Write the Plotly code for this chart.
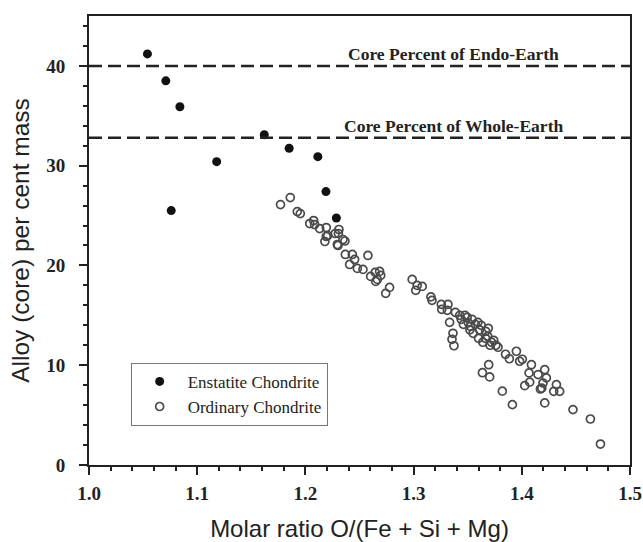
import plotly.graph_objects as go

# ---- data ----
enstatite_x = [1.054, 1.071, 1.084, 1.076, 1.118, 1.162, 1.185, 1.2115, 1.219, 1.2286]
enstatite_y = [41.2, 38.5, 35.9, 25.5, 30.4, 33.1, 31.75, 30.9, 27.4, 24.75]

ordinary_x = [1.177, 1.186, 1.1925, 1.1953, 1.204, 1.2076, 1.2085, 1.2132, 1.2193, 1.2193,
              1.218, 1.2206, 1.2276, 1.231, 1.2305, 1.2347, 1.2365, 1.2295, 1.2301, 1.2369,
              1.2434, 1.2455, 1.2409, 1.248, 1.2532, 1.2578, 1.2603, 1.2645, 1.2686, 1.2696,
              1.265, 1.2665, 1.2742, 1.2778, 1.2987, 1.302, 1.3033, 1.308, 1.316, 1.317,
              1.3256, 1.326, 1.3318, 1.3312, 1.3333, 1.3386, 1.3364, 1.3355, 1.3373, 1.3426,
              1.344, 1.346, 1.3495, 1.3506, 1.3525, 1.352, 1.355, 1.357, 1.3594, 1.361,
              1.360, 1.364, 1.3666, 1.369, 1.3685, 1.3707, 1.372, 1.374, 1.376, 1.378,
              1.3475, 1.354, 1.3625, 1.3665, 1.3694, 1.3636, 1.3703, 1.382, 1.385, 1.3885,
              1.3913, 1.395, 1.398, 1.4005, 1.4027, 1.4073, 1.4067, 1.4089, 1.415, 1.4172,
              1.4185, 1.4196, 1.4212, 1.4227, 1.4212, 1.4295, 1.432, 1.435, 1.4473, 1.4634,
              1.4727]
ordinary_y = [26.1, 26.8, 25.4, 25.2, 24.2, 24.5, 24.1, 23.7, 23.8, 22.9,
              22.4, 23.0, 23.2, 23.6, 23.2, 22.6, 22.45, 22.1, 22.0, 21.1,
              21.1, 20.6, 20.1, 19.7, 19.6, 21.0, 18.9, 19.3, 19.4, 19.0,
              18.4, 18.6, 17.2, 17.8, 18.6, 17.5, 18.0, 17.9, 16.85, 16.5,
              16.1, 15.6, 16.1, 15.5, 14.3, 15.3, 13.2, 12.6, 11.95, 15.0,
              14.6, 14.1, 14.8, 14.25, 13.9, 13.55, 13.2, 14.1, 14.3, 13.55,
              12.7, 12.3, 13.4, 13.7, 12.9, 12.0, 12.3, 12.5, 12.0, 11.8,
              15.0, 14.6, 14.0, 12.7, 10.05, 9.25, 8.83, 7.4, 11.1, 10.65,
              6.05, 11.4, 10.4, 10.6, 7.95, 8.3, 9.23, 10.05, 9.06, 7.62,
              7.7, 8.22, 9.56, 8.73, 6.22, 7.38, 8.05, 7.38, 5.55, 4.61,
              2.1]

ENDO_EARTH = 40.0
WHOLE_EARTH = 32.8
x_ticks = [1.0, 1.1, 1.2, 1.3, 1.4, 1.5]
y_ticks = [0, 10, 20, 30, 40]

serif = "Liberation Serif"
sans = "Liberation Sans"

fig = go.Figure()
fig.add_trace(go.Scatter(
    x=enstatite_x, y=enstatite_y, mode="markers", name="Enstatite Chondrite",
    marker=dict(symbol="circle", size=9, color="#111111", line=dict(width=0)),
))
fig.add_trace(go.Scatter(
    x=ordinary_x, y=ordinary_y, mode="markers", name="Ordinary Chondrite",
    marker=dict(symbol="circle-open", size=8, color="#4a4a4a", line=dict(width=1.7)),
))

for yv, label in [(ENDO_EARTH, "Core Percent of Endo-Earth"),
                  (WHOLE_EARTH, "Core Percent of Whole-Earth")]:
    fig.add_shape(type="line", xref="x", yref="y", x0=1.0, x1=1.5, y0=yv, y1=yv,
                  line=dict(color="#222222", width=2.5, dash="13px,6px"))
    fig.add_annotation(x=1.337, y=yv, xref="x", yref="y", text=label, showarrow=False,
                       yanchor="bottom", yshift=0,
                       font=dict(family=serif, size=17.5, color="#222222", weight="bold"))

axis_common = dict(showgrid=False, zeroline=False, showline=True, linecolor="#222222",
                   linewidth=2, mirror=True, ticks="outside", tickcolor="#222222",
                   tickwidth=2, ticklen=8,
                   tickfont=dict(family=serif, size=19, color="#222222", weight="bold"))

fig.update_xaxes(range=[1.0, 1.5], tickvals=x_ticks, tickformat=".1f",
                 minor=dict(dtick=0.02, ticks="outside", ticklen=4, tickwidth=2, tickcolor="#222222"),
                 title=dict(text="Molar ratio O/(Fe + Si + Mg)", standoff=22,
                            font=dict(family=sans, size=24, color="#222222")),
                 ticklabelstandoff=2, automargin=False, **axis_common)
fig.update_yaxes(range=[0, 45], tickvals=y_ticks,
                 minor=dict(dtick=2, ticks="outside", ticklen=4, tickwidth=2, tickcolor="#222222"),
                 title=dict(text="Alloy (core) per cent mass", standoff=10,
                            font=dict(family=sans, size=24.5, color="#222222")),
                 ticklabelstandoff=10, automargin=False, **axis_common)

fig.update_layout(
    width=643, height=542,
    margin=dict(l=89, r=13, t=16, b=77),
    paper_bgcolor="white", plot_bgcolor="white",
    legend=dict(x=0.077, y=0.2275, xanchor="left", yanchor="top",
                bordercolor="#777777", borderwidth=1, bgcolor="white",
                itemwidth=46,
                font=dict(family=serif, size=17, color="#222222")),
)

fig.write_html("out.html")
